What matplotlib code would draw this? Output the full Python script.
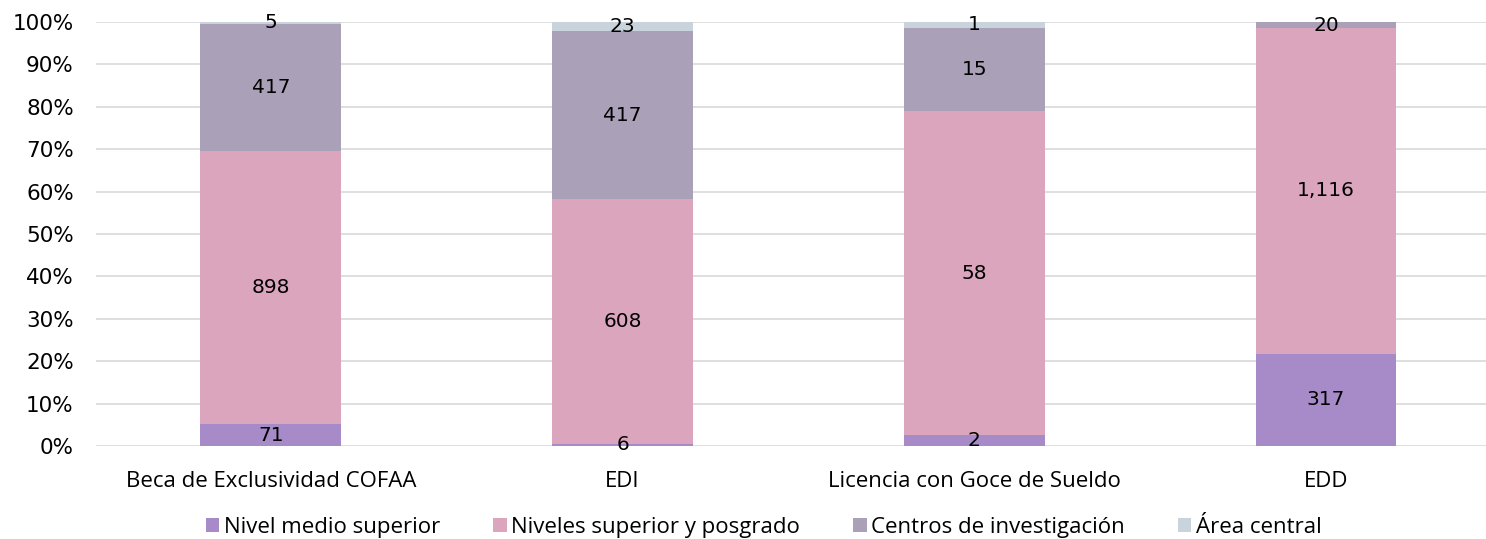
import numpy as np
import matplotlib.pyplot as plt
from matplotlib.ticker import PercentFormatter

categorias = ['Beca de Exclusividad COFAA', 'EDI', 'Licencia con Goce de Sueldo', 'EDD']
series = ['Nivel medio superior', 'Niveles superior y posgrado', 'Centros de investigación', 'Área central']
nivel_medio = [71, 6, 2, 317]
superior_posgrado = [898, 608, 58, 1116]
centros_inv = [417, 417, 15, 20]
area_central = [5, 23, 1, 0]
colores = ['#A78BC9', '#DBA6BD', '#AAA0B8', '#C8D3DC']

plt.rcParams['font.family'] = ['DejaVu Sans']
texto = ['Open Sans', 'DejaVu Sans']

datos = np.array([nivel_medio, superior_posgrado, centros_inv, area_central], dtype=float)
totales = datos.sum(axis=0)
pct = datos / totales * 100

fig = plt.figure(figsize=(14.86, 5.39), dpi=100)
ax = fig.add_axes([0.0646, 0.1725, 0.9354, 0.7865])
x = np.arange(len(categorias))
base = np.zeros(len(categorias))
for i, nombre in enumerate(series):
    ax.bar(x, pct[i], 0.4, bottom=base, color=colores[i], label=nombre, zorder=2)
    for j in range(len(categorias)):
        if datos[i, j] > 0:
            ax.text(x[j], base[j] + pct[i, j] / 2, f'{int(datos[i, j]):,}',
                    ha='center', va='center', fontsize=14.5, color='black', zorder=3)
    base += pct[i]

ax.set_ylim(0, 100)
ax.set_xlim(-0.497, 3.455)
ax.set_yticks(range(0, 101, 10))
ax.yaxis.set_major_formatter(PercentFormatter(decimals=0))
ax.set_xticks(x)
ax.set_xticklabels(categorias, family=texto, fontsize=16)
ax.tick_params(axis='y', length=0, labelsize=15.5, pad=16)
ax.tick_params(axis='x', length=0, pad=18)
ax.grid(axis='y', color='#D9D9D9', linewidth=1.2, zorder=0)
for s in ax.spines.values():
    s.set_visible(False)

fig.legend(loc='lower center', bbox_to_anchor=(0.514, -0.035), ncol=4, frameon=False,
           prop={'family': texto, 'size': 16}, handlelength=0.6, handleheight=0.6,
           handletextpad=0.2, columnspacing=2.4)

fig.savefig('out.png', dpi=100)
